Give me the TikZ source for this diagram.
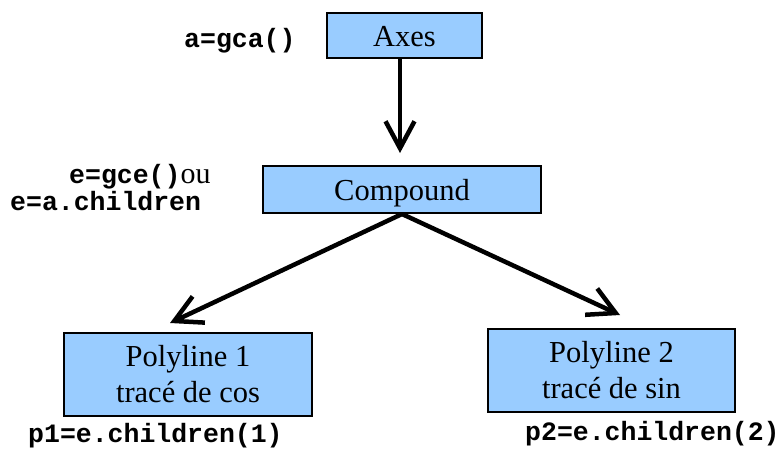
\documentclass[tikz,border=0pt]{standalone}
\usepackage{fontspec}
\setmainfont{Liberation Serif}
\setmonofont{Liberation Mono}
\usetikzlibrary{arrows.meta}
\definecolor{boxblue}{HTML}{99CCFF}
\begin{document}
\begin{tikzpicture}[x=1pt,y=-1pt,
  box/.style={draw=black, line width=2pt, fill=boxblue, inner sep=0pt,
    font=\fontsize{30.5}{36}\selectfont, align=center},
  single/.style={text height=22pt, text depth=0pt},
  code/.style={font=\fontsize{26.5}{30}\selectfont\ttfamily\bfseries, inner sep=0pt, anchor=base west},
  conn/.style={line width=4.5pt, -{Straight Barb[length=27pt,width=29pt]}}
]
\useasboundingbox (0,0) rectangle (783,450);
% boxes
\node[box, single, minimum width=155pt, minimum height=45.5pt] (axes) at (404.5,35.4) {Axes};
\node[box, single, minimum width=278pt, minimum height=47pt] (compound) at (402,189.5) {Compound};
\node[box, minimum width=248pt, minimum height=83pt] (poly1) at (188,374.5) {Polyline 1\\trac\'e de cos};
\node[box, minimum width=247pt, minimum height=83pt] (poly2) at (611.5,370.5) {Polyline 2\\trac\'e de sin};
% arrow tips
\coordinate (t0) at (400,153);
\coordinate (t1) at (170,323);
\coordinate (t2) at (620,315);
\draw[conn] ([xshift=-4.5pt]axes.south) -- (t0);
\draw[conn] (compound.south) -- (t1);
\draw[conn] (compound.south) -- (t2);
% code labels
\node[code] (la) at (184,47) {a=gca()};
\node[code] (le1) at (69,183) {e=gce(){\rmfamily\mdseries\fontsize{30}{36}\selectfont ou}};
\node[code] (le2) at (10,210) {e=a.children};
\node[code] (lp1) at (28,442) {p1=e.children(1)};
\node[code] (lp2) at (525,440) {p2=e.children(2)};
\end{tikzpicture}
\end{document}
